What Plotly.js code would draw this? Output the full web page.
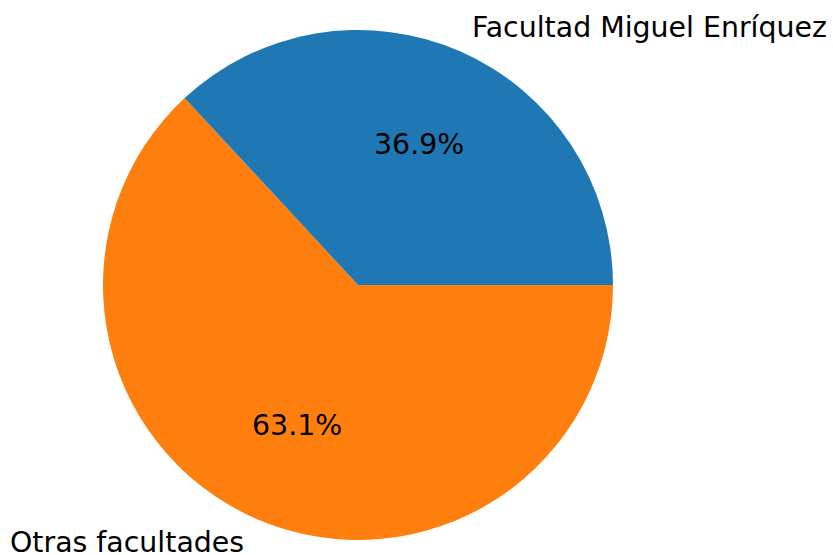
<!DOCTYPE html>
<html>
<head>
<meta charset="utf-8">
<script src="https://cdn.plot.ly/plotly-3.0.1.min.js"></script>
<style>html,body{margin:0;padding:0;background:#fff;}#chart{width:833px;height:555px;}</style>
</head>
<body>
<div id="chart"></div>
<script>
const categories = ["Facultad Miguel Enríquez", "Otras facultades"];
const values = [36.9, 63.1];
const colors = ["#1f77b4", "#ff7f0e"];

const W = 833, H = 555;
const cx = 358, cy = 285, R = 255;
const font = {family: "DejaVu Sans", size: 28.4, color: "#000"};

// outside labels at 1.1 radius and percentages at 0.6 radius on slice bisector
// (slices run counterclockwise from 3 o'clock)
const total = values.reduce((a, b) => a + b, 0);
let acc = 0;
const annotations = [];
categories.forEach((c, i) => {
  const mid = (acc + values[i] / 2) / total * 2 * Math.PI;
  acc += values[i];
  const x = cx + 1.1 * R * Math.cos(mid);
  const y = cy - 1.1 * R * Math.sin(mid);
  annotations.push({
    text: c, xref: "paper", yref: "paper",
    x: x / W, y: 1 - y / H,
    xanchor: Math.cos(mid) >= 0 ? "left" : "right", yanchor: "middle",
    showarrow: false, font: font
  });
  const px = cx + 0.6 * R * Math.cos(mid);
  const py = cy - 0.6 * R * Math.sin(mid);
  annotations.push({
    text: (values[i] / total * 100).toFixed(1) + "%", xref: "paper", yref: "paper",
    x: px / W, y: 1 - py / H,
    xanchor: "center", yanchor: "middle",
    showarrow: false, font: font
  });
});

// Plotly measures from 12 o'clock clockwise; listing slices in reverse order
// clockwise from 3 o'clock gives the counterclockwise order of the original.
const trace = {
  type: "pie",
  labels: categories.slice().reverse(),
  values: values.slice().reverse(),
  sort: false,
  direction: "clockwise",
  rotation: 90,
  marker: {colors: colors.slice().reverse(), line: {width: 0}},
  textinfo: "none",
  hoverinfo: "none",
  domain: {x: [(cx - R) / W, (cx + R) / W], y: [(H - cy - R) / H, (H - cy + R) / H]}
};

Plotly.newPlot("chart", [trace], {
  width: W, height: H,
  margin: {l: 0, r: 0, t: 0, b: 0},
  showlegend: false,
  paper_bgcolor: "#fff",
  annotations: annotations
}, {displayModeBar: false, staticPlot: true});
</script>
</body>
</html>
